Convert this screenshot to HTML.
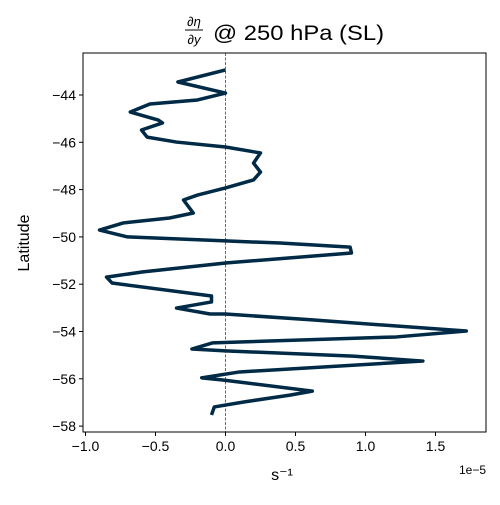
<!DOCTYPE html>
<html><head><meta charset="utf-8"><style>
body{margin:0;background:#fff}
svg text{font-family:"Liberation Sans","DejaVu Sans",sans-serif;fill:#000}
</style></head><body>
<svg id="chart" width="500" height="500">
<g id="g"></g>
</svg>
<script>
const lats=[-42.94,-43.45,-43.92,-44.21,-44.38,-44.72,-45.06,-45.18,-45.48,-45.78,-45.99,-46.20,-46.45,-46.88,-47.26,-47.59,-47.93,-48.23,-48.44,-48.99,-49.20,-49.41,-49.71,-50.00,-50.17,-50.26,-50.43,-50.68,-51.10,-51.48,-51.70,-51.95,-52.50,-52.75,-53.01,-53.26,-53.26,-53.51,-53.98,-54.23,-54.48,-54.74,-54.82,-55.04,-55.25,-55.71,-55.96,-56.05,-56.52,-56.69,-56.98,-57.19,-57.53];
const vals=[0.00,-0.34,0.00,-0.20,-0.54,-0.68,-0.48,-0.45,-0.60,-0.56,-0.35,0.00,0.25,0.20,0.25,0.20,0.00,-0.20,-0.30,-0.23,-0.40,-0.73,-0.90,-0.70,0.00,0.39,0.89,0.90,0.01,-0.59,-0.85,-0.81,-0.10,-0.10,-0.35,-0.11,0.00,0.62,1.72,1.22,-0.09,-0.24,0.00,0.91,1.41,0.10,-0.17,-0.02,0.62,0.46,0.13,-0.08,-0.10];
const xTicks=[-1.0,-0.5,0.0,0.5,1.0,1.5];
const yTicks=[-44,-46,-48,-50,-52,-54,-56,-58];
const L=83,R=486,T=53,B=432;
const xs=v=>225.5+v*140;
const ys=v=>95+(-44-v)*23.65;
const NS='http://www.w3.org/2000/svg';
const g=document.getElementById('g');
function mk(t,a,txt){const e=document.createElementNS(NS,t);for(const k in a)e.setAttribute(k,a[k]);if(txt!==undefined)e.textContent=txt;g.appendChild(e);return e;}
let e;
e=mk('line',{x1:xs(0),x2:xs(0),y1:T,y2:B,stroke:'#444','stroke-width':0.8,'stroke-dasharray':'3,1.5'});


e=mk('polyline',{points:vals.map((v,i)=>xs(v)+','+ys(lats[i])).join(' '),fill:'none',stroke:'#002a46','stroke-width':3.5,'stroke-linejoin':'round'});


e=mk('rect',{x:L,y:T,width:R-L,height:B-T,fill:'none',stroke:'#000','stroke-width':1});


xTicks.forEach(v=>{const x=xs(v);
e=mk('line',{x1:x,x2:x,y1:B,y2:B+4,stroke:'#000'});


e=mk('text',{x:x,y:B+19,'text-anchor':'middle','font-size':14},(v<0?'\u2212':'')+Math.abs(v).toFixed(1));

});
yTicks.forEach(v=>{const y=ys(v);
e=mk('line',{x1:L-4,x2:L,y1:y,y2:y,stroke:'#000'});


e=mk('text',{x:L-7,y:y+5,'text-anchor':'end','font-size':14},'\u2212'+Math.abs(v));

});
e=mk('text',{x:486,y:474,'text-anchor':'end','font-size':12},'1e\u22125');


e=mk('text',{x:282,y:480,'text-anchor':'middle','font-size':16},'s\u207B\u00B9');


e=mk('text',{x:29,y:243,'text-anchor':'middle','font-size':16,transform:'rotate(-90 29 243)'},'Latitude');


e=mk('text',{x:194,y:26,'text-anchor':'middle','font-size':13,'font-style':'italic'},'\u2202\u03B7');


e=mk('line',{x1:185,x2:203,y1:30,y2:30,stroke:'#000','stroke-width':1});


e=mk('text',{x:194,y:44,'text-anchor':'middle','font-size':13,'font-style':'italic'},'\u2202y');


e=mk('text',{x:213,y:40,'font-size':21,textLength:171,lengthAdjust:'spacingAndGlyphs'},'@ 250 hPa (SL)');


</script>
</body></html>
